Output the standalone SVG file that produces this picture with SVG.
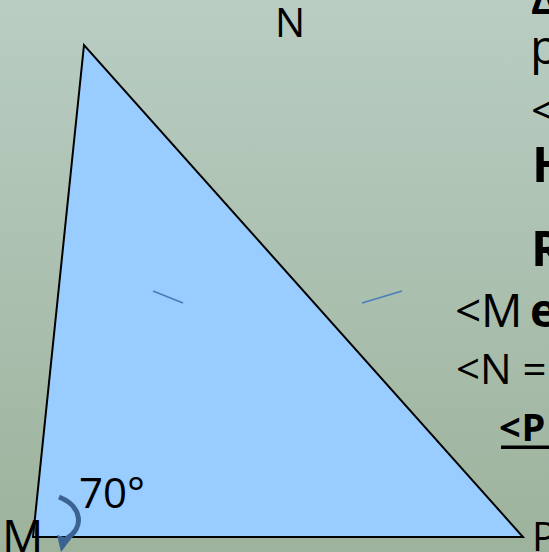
<svg xmlns="http://www.w3.org/2000/svg" width="549" height="552" viewBox="0 0 549 552">
<defs>
<linearGradient id="bg" x1="0" y1="0" x2="0" y2="1">
<stop offset="0" stop-color="#b9cdc3"/>
<stop offset="1" stop-color="#9db39c"/>
</linearGradient>
<style>
.t{font-family:"Open Sans","Noto Sans","DejaVu Sans",sans-serif;fill:#000}
.b{font-weight:bold}
.tick{stroke:#4a7ebb;stroke-width:1.8;fill:none}
</style>
</defs>
<rect x="0" y="0" width="549" height="552" fill="url(#bg)"/>
<g id="triangle">
<polygon points="84,45 33,537 523,537" fill="#99ccff" stroke="#000" stroke-width="2" stroke-linejoin="miter"/>
</g>
<g id="ticks">
<line class="tick" x1="153" y1="291" x2="183" y2="303"/>
<line class="tick" x1="362" y1="303" x2="402" y2="291"/>
</g>
<g id="angle-M">
<path d="M59,497 C82,506 85,528 66,539" fill="none" stroke="#3b6392" stroke-width="5"/>
<polygon points="57,535 71,539 61,552" fill="#3b6392"/>
<text class="t" x="79" y="508" font-size="42">70°</text>
</g>
<g id="vertex-labels">
<text class="t" x="275" y="37" font-size="40">N</text>
<text class="t" x="2" y="553" font-size="46">M</text>
<text class="t" x="532" y="551" font-size="40">P</text>
</g>
<g id="text-block">
<text class="t b" x="531" y="14" font-size="40">Δ</text>
<text class="t" x="530" y="63.5" font-size="48">p</text>
<text class="t" x="531" y="126" font-size="44">&lt;</text>
<text class="t b" x="532" y="182" font-size="49">H</text>
<text class="t b" x="531" y="266" font-size="49">R</text>
<text class="t" y="327" font-size="46"><tspan x="455">&lt;</tspan><tspan x="481">M</tspan><tspan class="b" x="530">e</tspan></text>
<text class="t" x="456" y="384" font-size="42">&lt;N =</text>
<text class="t b" y="441" font-size="38"><tspan x="499">&lt;</tspan><tspan x="521.5">P</tspan></text>
<rect x="501" y="445.5" width="48" height="3.5" fill="#000"/>
</g>
</svg>
